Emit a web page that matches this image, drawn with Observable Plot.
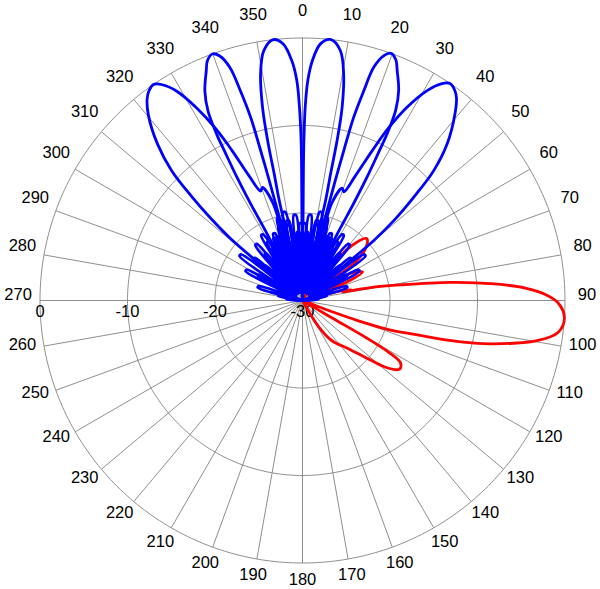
<!DOCTYPE html>
<html><head><meta charset="utf-8">
<script src="https://cdn.jsdelivr.net/npm/d3@7"></script>
<script src="https://cdn.jsdelivr.net/npm/@observablehq/plot@0.6"></script>
<style>html,body{margin:0;padding:0;background:#fff;} #chart svg{display:block;}</style>
</head><body><div id="chart"></div>
<script>
// ---- tick labels ----
const angleTicks = [0,10,20,30,40,50,60,70,80,90,100,110,120,130,140,150,160,170,180,190,200,210,220,230,240,250,260,270,280,290,300,310,320,330,340,350];
const radialTicks = [-30,-20,-10,0];
const rMin = -30, rMax = 0;

// ---- series: [angle in degrees (clockwise from top), level in dB] ----
const beamM34 = [[90,-30],[63,-28.2],[61,-28.2],[52,-29],[45,-27.2],[43,-27.2],[38,-29],[32.8,-26.2],[31.2,-26.2],[27,-29],[22.8,-25.2],[21.2,-25.2],[17.5,-29],[13.8,-24.2],[12.2,-24.2],[8.5,-29],[5.3,-23.2],[3.7,-23.2],[0.5,-29],[-2.7,-22.2],[-4.3,-22.2],[-7.5,-29],[-10.2,-21.2],[-11.8,-21.2],[-14.5,-29],
 [-16.6,-22],[-16.9,-18.3],[-19.5,-16.3],[-21,-16.6],[-23.2,-14.5],[-25.2,-11],[-26.8,-8],[-28.8,-4.9],[-31,-2.1],[-33,-0.6],[-34.6,0],[-36.2,-0.3],[-37.6,-0.9],[-39.8,-2.5],[-42.8,-5.6],[-45.2,-8.9],[-46.8,-12.6],[-48.2,-16.1],[-49.3,-19.3],[-50.3,-29],
 [-53.2,-21.2],[-54.8,-21.2],[-58,-29],[-61.2,-22.7],[-62.8,-22.7],[-67,-29],[-72,-24.7],[-74,-24.7],[-80,-29],[-84,-28.2],[-86,-28.2],[-90,-30]];
const beamM20 = [[90,-30],[72,-27.2],[70,-27.2],[62.5,-29],[56.8,-26.2],[55.2,-26.2],[50.5,-29],[46.3,-25.2],[44.7,-25.2],[41,-29],[37.8,-24.2],[36.2,-24.2],[33,-29],[29.8,-23.2],[28.2,-23.2],[25.3,-29],[22.5,-22.2],[20.9,-22.2],[18.2,-29],[15.6,-21.2],[14,-21.2],[11.4,-29],[8.9,-22.2],[7.3,-22.2],[4.8,-29],[2.3,-21.2],[0.7,-21.2],[-1.8,-29],[-4.3,-20.2],[-5.9,-20.2],[-8.5,-29],[-11,-19.7],[-12.6,-19.7],[-15,-29],
 [-15.5,-18],[-15.5,-15],[-15.6,-12.2],[-15.8,-8.3],[-16.5,-5],[-17.3,-2.1],[-18.7,-0.5],[-20.1,0],[-21.6,-0.5],[-22.8,-1.6],[-25,-3.6],[-26.5,-5.8],[-27.3,-8.6],[-27.6,-11],[-28,-14],[-28.2,-17.5],[-28,-20.6],[-28.2,-29],
 [-30.8,-21.2],[-32.4,-21.2],[-35.5,-29],[-38.9,-21.7],[-40.5,-21.7],[-44.1,-29],[-48.1,-22.7],[-49.7,-22.7],[-54.2,-29],[-59.5,-24.2],[-61.1,-24.2],[-67.8,-29],[-77.5,-27.2],[-79.5,-27.2],[-90,-30]];
const beamM6 = [[-90,-30],[-76,-27.2],[-74,-27.2],[-65.5,-29],[-59.3,-25.2],[-57.7,-25.2],[-52.7,-29],[-48.3,-24.2],[-46.7,-24.2],[-42.8,-29],[-39.3,-23.2],[-37.7,-23.2],[-34.4,-29],[-31.3,-22.2],[-29.7,-22.2],[-26.7,-29],[-23.9,-21.7],[-22.3,-21.7],[-19.6,-29],[-17.3,-20.2],[-15.7,-20.2],[-13.6,-29],
 [-13.1,-18.3],[-12.6,-15.2],[-12.3,-11.3],[-11.7,-7.5],[-10.5,-3.7],[-8.8,-1.1],[-6.4,0],[-4.3,-0.6],[-2.6,-2.5],[-1.5,-4.8],[-0.9,-7.9],[-0.5,-11.7],[-0.4,-15],[-0.4,-20],[0.4,-30],
 [3.1,-22.2],[4.7,-22.2],[7.2,-29],[9.7,-20.7],[11.3,-20.7],[14,-29],[16.7,-21.2],[18.3,-21.2],[21,-29],[23.7,-22.2],[25.3,-22.2],[28,-29],[31.2,-23.2],[32.8,-23.2],[36,-29],[39.2,-24.2],[40.8,-24.2],[44.5,-29],[48.2,-25.2],[49.8,-25.2],[54.5,-29],[60,-26.2],[62,-26.2],[68,-29],[80,-28.2],[82,-28.2],[90,-30]];
const beamP6 = [[-90,-30],[-82,-28.2],[-80,-28.2],[-68,-29],[-62,-26.2],[-60,-26.2],[-54.5,-29],[-49.8,-25.2],[-48.2,-25.2],[-44.5,-29],[-40.8,-24.2],[-39.2,-24.2],[-36,-29],[-32.8,-23.2],[-31.2,-23.2],[-28,-29],[-25.3,-22.2],[-23.7,-22.2],[-21,-29],[-18.3,-21.2],[-16.7,-21.2],[-14,-29],[-11.3,-20.7],[-9.7,-20.7],[-7.2,-29],[-4.7,-22.2],[-3.1,-22.2],[-0.4,-30],
 [0.4,-20],[0.4,-15],[0.5,-11.7],[0.8,-7.9],[1.4,-4.8],[2.4,-2.5],[4,-0.6],[6.1,0],[8.6,-1.1],[10.3,-3.7],[11.6,-7.5],[12.2,-11.3],[12.5,-15.2],[13,-18.3],[13.5,-29],
 [15.7,-20.2],[17.3,-20.2],[19.6,-29],[22.3,-21.7],[23.9,-21.7],[26.7,-29],[29.7,-22.2],[31.3,-22.2],[34.4,-29],[37.7,-23.2],[39.3,-23.2],[42.8,-29],[46.7,-24.2],[48.3,-24.2],[52.7,-29],[57.7,-25.2],[59.3,-25.2],[65.5,-29],[74,-27.2],[76,-27.2],[90,-30]];
const beamP20 = [[-90,-30],[-72,-27.2],[-70,-27.2],[-62.5,-29],[-56.8,-26.2],[-55.2,-26.2],[-50.5,-29],[-46.3,-25.2],[-44.7,-25.2],[-41,-29],[-37.8,-24.2],[-36.2,-24.2],[-33,-29],[-29.8,-23.2],[-28.2,-23.2],[-25.3,-29],[-22.5,-22.2],[-20.9,-22.2],[-18.2,-29],[-15.6,-21.2],[-14,-21.2],[-11.4,-29],[-8.9,-22.2],[-7.3,-22.2],[-4.8,-29],[-2.3,-21.2],[-0.7,-21.2],[1.8,-29],[4.3,-20.2],[5.9,-20.2],[8.5,-29],[11,-19.7],[12.6,-19.7],[14.8,-29],
 [15.3,-18],[15.3,-15],[15.4,-12.2],[15.6,-8.3],[16.3,-5],[17,-2.1],[18.4,-0.5],[19.7,0],[21.2,-0.5],[22.4,-1.6],[24.6,-3.6],[26.1,-5.8],[26.9,-8.6],[27.2,-11],[27.6,-14],[27.8,-17.5],[27.6,-20.6],[27.8,-29],
 [30.8,-21.2],[32.4,-21.2],[35.5,-29],[38.9,-21.7],[40.5,-21.7],[44.1,-29],[48.1,-22.7],[49.7,-22.7],[54.2,-29],[59.5,-24.2],[61.1,-24.2],[67.8,-29],[77.5,-27.2],[79.5,-27.2],[90,-30]];
const beamP34 = [[-90,-30],[-63,-28.2],[-61,-28.2],[-52,-29],[-45,-27.2],[-43,-27.2],[-38,-29],[-32.8,-26.2],[-31.2,-26.2],[-27,-29],[-22.8,-25.2],[-21.2,-25.2],[-17.5,-29],[-13.8,-24.2],[-12.2,-24.2],[-8.5,-29],[-5.3,-23.2],[-3.7,-23.2],[-0.5,-29],[2.7,-22.2],[4.3,-22.2],[7.5,-29],[10.2,-21.2],[11.8,-21.2],[14.5,-29],
 [16.6,-22],[16.8,-18.3],[19.4,-16.4],[20.9,-16.7],[23,-14.5],[25,-11],[26.5,-8],[28.4,-4.9],[30.7,-2.1],[32.6,-0.6],[34.2,0],[35.8,-0.3],[37.2,-0.9],[39.3,-2.5],[42.7,-5.6],[45.3,-8.9],[47.1,-12.6],[48.8,-16.1],[49.9,-19.3],[50.8,-29],
 [53.2,-21.2],[54.8,-21.2],[58,-29],[61.2,-22.7],[62.8,-22.7],[67,-29],[72,-24.7],[74,-24.7],[80,-29],[84,-28.2],[86,-28.2],[90,-30]];
const redPattern = [[30,-30],[33.3,-26.2],[34.7,-26.2],[37,-29],[38.5,-26],[42,-21.5],[46,-19.8],[50,-20.5],[54,-22.5],[57,-29],[61,-23.5],[64.6,-22.4],[67,-24],[69,-29],[71.3,-27.2],[72.7,-27.2],[74,-29],
 [76,-25.5],[77.5,-24.3],[78,-25.3],[79.5,-21.5],[81,-18.5],[83,-13],[84.2,-10],[85.5,-7],[86.8,-4.5],[88.5,-2.3],[90.5,-0.8],[93.8,0],[97.2,-0.6],[99.7,-2.8],[101.5,-5.5],[103,-8],[104.5,-11],[105.6,-13.6],[107.2,-17.3],[108.6,-19.5],[110,-23.3],[110.8,-26.2],[111.5,-30],
 [114.3,-28.2],[115.7,-28.2],[118,-30],[120.5,-26],[120.3,-21.7],[121,-18.5],[122.3,-16.8],[124.6,-16.4],[125.8,-16.5],[128.9,-17.9],[132.1,-20.3],[136.4,-22.4],[143.8,-24.3],[148.5,-26.5],[151,-30],[160,-30]];

const blueBeams = {M34: beamM34, M20: beamM20, M6: beamM6, P6: beamP6, P20: beamP20, P34: beamP34};

// ---- helpers: polar -> cartesian (radius = dB above -30) ----
const rad = d => d * Math.PI / 180;
const rho = db => Math.max(db, rMin) - rMin;
const px = (a, db) => rho(db) * Math.sin(rad(a));
const py = (a, db) => rho(db) * Math.cos(rad(a));
const R = rMax - rMin;

const blueRows = Object.entries(blueBeams).flatMap(([k, arr]) => arr.map(([a, v]) => ({beam: k, a, v})));
const redRows = redPattern.map(([a, v]) => ({a, v}));
const ringRows = radialTicks.filter(t => t > rMin).flatMap(t => d3.range(0, 361, 1).map(a => ({t, a})));

const chart = Plot.plot({
  width: 600, height: 589, margin: 0,
  x: {domain: [-R, R], range: [39.5, 564.5], axis: null},
  y: {domain: [-R, R], range: [562.5, 37.5], axis: null},
  style: {fontFamily: "'Liberation Sans', Arial, Helvetica, sans-serif", background: "white", overflow: "visible"},
  marks: [
    Plot.line(ringRows, {x: d => px(d.a, d.t), y: d => py(d.a, d.t), z: "t", stroke: "#8f8f8f", strokeWidth: 1}),
    Plot.link(angleTicks, {x1: 0, y1: 0, x2: a => R * Math.sin(rad(a)), y2: a => R * Math.cos(rad(a)), stroke: "#8f8f8f", strokeWidth: 1}),
    Plot.text(angleTicks, {x: a => 32.5 * Math.sin(rad(a)), y: a => 32.5 * Math.cos(rad(a)), text: a => String(a), dy: -5.5, fontSize: 16.5, fill: "black"}),
    Plot.text(radialTicks, {x: t => -rho(t), y: 0, text: t => String(t), dy: 11, fontSize: 16.5, fill: "black"}),
    Plot.line(redRows, {x: d => px(d.a, d.v), y: d => py(d.a, d.v), stroke: "#ff0000", strokeWidth: 2.8, curve: "catmull-rom"}),
    Plot.line(blueRows, {x: d => px(d.a, d.v), y: d => py(d.a, d.v), z: "beam", stroke: "#0000ff", strokeWidth: 2.8, curve: "catmull-rom"})
  ]
});
document.getElementById("chart").appendChild(chart);
</script>
</body></html>
